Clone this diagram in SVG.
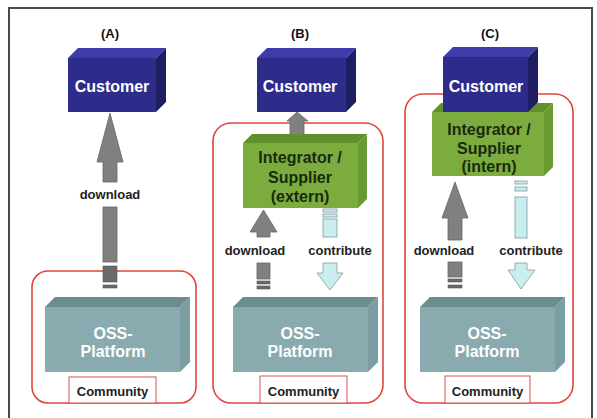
<svg xmlns="http://www.w3.org/2000/svg" width="597" height="418" viewBox="0 0 597 418">
<defs>
<style>
text{font-family:"Liberation Sans",Arial,sans-serif;font-weight:bold;text-anchor:middle}
.title{font-size:13px;fill:#111}
.cf{fill:#2d2c8a}.ct{fill:#3d3ca8}.cs{fill:#1f1e63}
.gf{fill:#7cac3e}.gt{fill:#5f922c}.gs{fill:#679b32}
.of{fill:#89aaaf}.ot{fill:#6b8d92}.os{fill:#7b9ea3}
.wt{font-size:16px;fill:#fff}
.dt{font-size:16px;fill:#1a2a10}
.lbl{font-size:13px;fill:#222}
.red{fill:none;stroke:#e0453c;stroke-width:1.6}
.comm{fill:#fff;stroke:#d9534a;stroke-width:1}
.ga{fill:#808080;stroke:#666;stroke-width:0.8}
.gd{fill:#6a6a6a;stroke:#555;stroke-width:0.6}
.ca{fill:#c9eef0;stroke:#8fa3a6;stroke-width:0.9}
</style>
</defs>
<rect x="0" y="0" width="597" height="418" fill="#fff"/>
<rect x="9" y="8" width="583" height="420" fill="none" stroke="#4a4a4a" stroke-width="2"/>

<g id="titles">
<text class="title" x="110" y="38">(A)</text>
<text class="title" x="300" y="38">(B)</text>
<text class="title" x="490" y="38">(C)</text>
</g>

<g id="groups">
<rect id="groupA" class="red" x="32" y="271" width="164" height="132" rx="16"/>
<rect id="groupB" class="red" x="213" y="123" width="170" height="280" rx="18"/>
<rect id="groupC" class="red" x="405" y="94" width="168" height="309" rx="18"/>
</g>

<g id="connectors">
<g id="dlA">
<path class="ga" d="M110,113 L123,162 L117,162 L117,182 L103,182 L103,162 L97,162 Z"/>
<rect class="ga" x="103" y="207" width="14" height="55"/>
<rect class="gd" x="103" y="266" width="14" height="16"/>
<rect class="gd" x="103" y="285" width="14" height="3"/>
<text class="lbl" x="110" y="199">download</text>
</g>
<g id="upB">
<path class="ga" d="M297,112 L308,121 L304,121 L304,141 L290,141 L290,121 L287,121 Z"/>
</g>
<g id="dlB">
<path class="ga" d="M263.5,210 L277,232 L270,232 L270,237 L257,237 L257,232 L250,232 Z"/>
<rect class="ga" x="257" y="263" width="13" height="16"/>
<rect class="gd" x="257" y="281" width="13" height="3"/>
<rect class="gd" x="257" y="286" width="13" height="3"/>
<text class="lbl" x="255" y="255">download</text>
</g>
<g id="ctB">
<rect class="ca" x="323" y="209" width="14" height="3"/>
<rect class="ca" x="323" y="214" width="14" height="3"/>
<rect class="ca" x="323" y="219" width="14" height="18"/>
<path class="ca" d="M323,263 L337,263 L337,273 L343,273 L330,290 L317,273 L323,273 Z"/>
<text class="lbl" x="340" y="255">contribute</text>
</g>
<g id="dlC">
<path class="ga" d="M455,182 L468,218 L462,218 L462,240 L448,240 L448,218 L442,218 Z"/>
<rect class="ga" x="448" y="262" width="14" height="15"/>
<rect class="gd" x="448" y="279" width="14" height="3"/>
<rect class="gd" x="448" y="285" width="14" height="3"/>
<text class="lbl" x="444" y="255">download</text>
</g>
<g id="ctC">
<rect class="ca" x="515" y="181" width="12" height="3"/>
<rect class="ca" x="515" y="187" width="12" height="4"/>
<rect class="ca" x="515" y="197" width="12" height="41"/>
<path class="ca" d="M515,263 L527,263 L527,270 L535,270 L521,289 L508,270 L515,270 Z"/>
<text class="lbl" x="531" y="255">contribute</text>
</g>
</g>

<g id="customerA">
<polygon class="ct" points="68,58 78,48 166,48 156,58"/>
<polygon class="cs" points="156,58 166,48 166,102 156,112"/>
<rect class="cf" x="68" y="58" width="88" height="54"/>
<text class="wt" x="112" y="92">Customer</text>
</g>

<g id="customerB">
<polygon class="ct" points="257,58 267,48 356,48 346,58"/>
<polygon class="cs" points="346,58 356,48 356,102 346,112"/>
<rect class="cf" x="257" y="58" width="89" height="54"/>
<text class="wt" x="300" y="92">Customer</text>
</g>

<g id="integratorB">
<polygon class="gt" points="243,143 252,134 367,134 358,143"/>
<polygon class="gs" points="358,143 367,134 367,199 358,208"/>
<rect class="gf" x="243" y="143" width="115" height="65"/>
<text class="dt" x="300" y="163">Integrator /</text>
<text class="dt" x="300" y="183">Supplier</text>
<text class="dt" x="300" y="202">(extern)</text>
</g>

<g id="integratorC">
<polygon class="gt" points="432,112 441,103 553,103 544,112"/>
<polygon class="gs" points="544,112 553,103 553,167 544,176"/>
<rect class="gf" x="432" y="112" width="112" height="64"/>
<text class="dt" x="489" y="135">Integrator /</text>
<text class="dt" x="489" y="154">Supplier</text>
<text class="dt" x="489" y="172">(intern)</text>
</g>

<g id="customerC">
<polygon class="ct" points="443,57 453,47 538,47 528,57"/>
<polygon class="cs" points="528,57 538,47 538,102 528,112"/>
<rect class="cf" x="443" y="57" width="85" height="55"/>
<text class="wt" x="486" y="92">Customer</text>
</g>

<g id="ossA">
<polygon class="ot" points="45,307 55,297 190,297 180,307"/>
<polygon class="os" points="180,307 190,297 190,362 180,372"/>
<rect class="of" x="45" y="307" width="135" height="65"/>
<text class="wt" x="113" y="339">OSS-</text>
<text class="wt" x="113" y="357">Platform</text>
</g>

<g id="ossB">
<polygon class="ot" points="233,307 243,297 378,297 368,307"/>
<polygon class="os" points="368,307 378,297 378,362 368,372"/>
<rect class="of" x="233" y="307" width="135" height="65"/>
<text class="wt" x="300" y="339">OSS-</text>
<text class="wt" x="300" y="357">Platform</text>
</g>

<g id="ossC">
<polygon class="ot" points="420,307 430,297 565,297 555,307"/>
<polygon class="os" points="555,307 565,297 565,362 555,372"/>
<rect class="of" x="420" y="307" width="135" height="65"/>
<text class="wt" x="487" y="339">OSS-</text>
<text class="wt" x="487" y="357">Platform</text>
</g>

<g id="communityA">
<rect class="comm" x="69" y="377" width="87" height="26"/>
<text class="lbl" x="112.5" y="396">Community</text>
</g>
<g id="communityB">
<rect class="comm" x="260" y="376" width="87" height="27"/>
<text class="lbl" x="303.5" y="396">Community</text>
</g>
<g id="communityC">
<rect class="comm" x="445" y="376" width="85" height="27"/>
<text class="lbl" x="487.5" y="396">Community</text>
</g>
</svg>
